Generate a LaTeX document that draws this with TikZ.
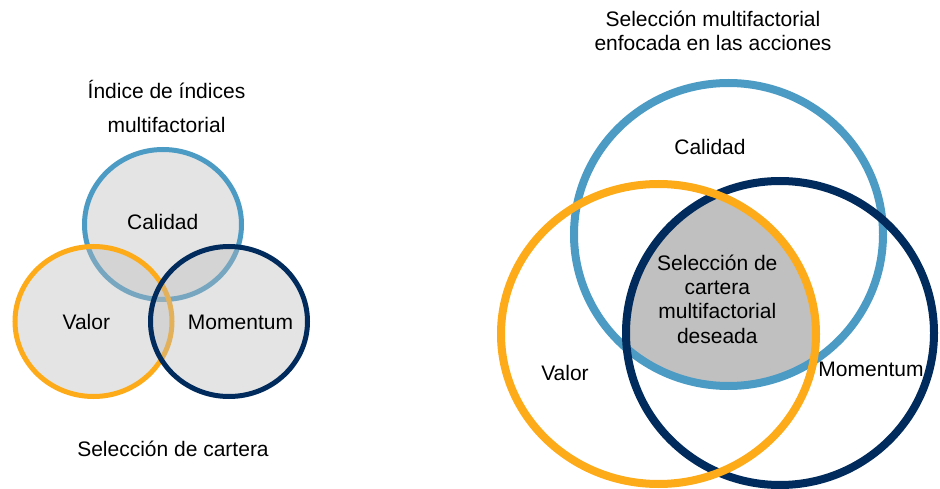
\documentclass[tikz,border=0pt]{standalone}
\usepackage{fontspec}
\setmainfont{Liberation Sans}
\definecolor{calblue}{HTML}{4B9BC4}
\definecolor{momnavy}{HTML}{002B5C}
\definecolor{valorange}{HTML}{FDAB19}
\definecolor{lgray}{RGB}{187,187,187}
\definecolor{cgray}{HTML}{C0C0C0}
\tikzset{
  lbl/.style={anchor=base, inner sep=0pt, font=\fontsize{21}{24}\selectfont, text=black},
  smallring/.style={line width=5pt, fill=lgray, fill opacity=0.4},
  bigring/.style={line width=8pt},
}
\begin{document}
\begin{tikzpicture}[x=1pt,y=-1pt]
\useasboundingbox (0,0) rectangle (940,489);
% ---------- left diagram ----------
\filldraw[smallring, draw=calblue] (163,224.5) ellipse [x radius=78.5pt, y radius=75pt];
\filldraw[smallring, draw=valorange] (93.5,321.5) ellipse [x radius=78.5pt, y radius=75pt];
\filldraw[smallring, draw=momnavy] (229,321.5) ellipse [x radius=78.5pt, y radius=75pt];
\node[lbl] (t1a) at (166.5,99) {Índice de índices};
\node[lbl] (t1b) at (166.5,133) {multifactorial};
\node[lbl] (lcal) at (162.7,229.3) {Calidad};
\node[lbl] (lval) at (86.3,329.3) {Valor};
\node[lbl] (lmom) at (240.5,329.3) {Momentum};
\node[lbl] (lsel) at (173,456) {Selección de cartera};
% ---------- right diagram ----------
\begin{scope}
  \clip (728.5,234.5) ellipse [x radius=154.5pt, y radius=151.5pt];
  \clip (658.5,334) ellipse [x radius=157.5pt, y radius=150pt];
  \fill[cgray] (780,333) ellipse [x radius=154pt, y radius=152pt];
\end{scope}
\draw[bigring, calblue] (728.5,234.5) ellipse [x radius=154.5pt, y radius=151.5pt];
\draw[bigring, momnavy] (780,333) ellipse [x radius=154pt, y radius=152pt];
\draw[bigring, valorange] (658.5,334) ellipse [x radius=157.5pt, y radius=150pt];
\node[lbl] (t2a) at (713,27) {Selección multifactorial};
\node[lbl] (t2b) at (713,50.5) {enfocada en las acciones};
\node[lbl] (rcal) at (710,155) {Calidad};
\node[lbl] (c1) at (717.3,270) {Selección de};
\node[lbl] (c2) at (717.3,294.4) {cartera};
\node[lbl] (c3) at (717.3,318.8) {multifactorial};
\node[lbl] (c4) at (717.3,343.2) {deseada};
\node[lbl] (rval) at (565,380) {Valor};
\node[lbl] (rmom) at (871,376.7) {Momentum};
\end{tikzpicture}
\end{document}
